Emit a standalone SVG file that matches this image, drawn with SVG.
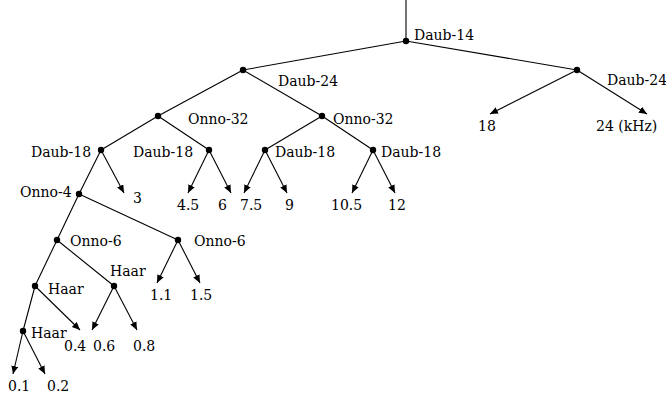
<svg xmlns="http://www.w3.org/2000/svg" width="666" height="397" viewBox="0 0 666 397">
<style>
.e{stroke:#000;stroke-width:1.1;fill:none}
.a{marker-end:url(#ah)}
.n{fill:#000}
text{font-family:"DejaVu Serif","Liberation Serif",serif;font-size:14px;fill:#000}
</style>
<defs>
<marker id="ah" markerUnits="userSpaceOnUse" markerWidth="9" markerHeight="8" refX="8" refY="3.5" orient="auto">
<path d="M0,0 L8,3.5 L0,7 z" fill="#000"/>
</marker>
</defs>
<rect width="666" height="397" fill="#fff"/>
<g id="connectors">
<line class="e" x1="406" y1="0" x2="406" y2="41"/>
<line class="e" x1="406" y1="41" x2="243" y2="70"/>
<line class="e" x1="406" y1="41" x2="577" y2="70"/>
<line class="e a" x1="577" y1="70" x2="490" y2="114"/>
<line class="e a" x1="577" y1="70" x2="647" y2="114"/>
<line class="e" x1="243" y1="70" x2="158" y2="116"/>
<line class="e" x1="243" y1="70" x2="322" y2="116"/>
<line class="e" x1="158" y1="116" x2="101" y2="150"/>
<line class="e" x1="158" y1="116" x2="209" y2="150"/>
<line class="e" x1="322" y1="116" x2="265" y2="150"/>
<line class="e" x1="322" y1="116" x2="373" y2="150"/>
<line class="e" x1="101" y1="150" x2="79" y2="194"/>
<line class="e a" x1="101" y1="150" x2="124" y2="193"/>
<line class="e a" x1="209" y1="150" x2="188" y2="193"/>
<line class="e a" x1="209" y1="150" x2="231" y2="193"/>
<line class="e a" x1="265" y1="150" x2="244" y2="193"/>
<line class="e a" x1="265" y1="150" x2="287" y2="193"/>
<line class="e a" x1="373" y1="150" x2="352" y2="193"/>
<line class="e a" x1="373" y1="150" x2="395" y2="193"/>
<line class="e" x1="79" y1="194" x2="57" y2="240"/>
<line class="e" x1="79" y1="194" x2="178" y2="240"/>
<line class="e a" x1="178" y1="240" x2="157" y2="283"/>
<line class="e a" x1="178" y1="240" x2="200" y2="283"/>
<line class="e" x1="57" y1="240" x2="35" y2="286"/>
<line class="e" x1="57" y1="240" x2="114" y2="286"/>
<line class="e a" x1="114" y1="286" x2="92" y2="330"/>
<line class="e a" x1="114" y1="286" x2="137" y2="330"/>
<line class="e" x1="35" y1="286" x2="23" y2="331"/>
<line class="e a" x1="35" y1="286" x2="80" y2="330"/>
<line class="e a" x1="23" y1="331" x2="13" y2="374"/>
<line class="e a" x1="23" y1="331" x2="45" y2="374"/>
</g>
<g id="n-daub14"><circle class="n" cx="406" cy="41" r="3.2"/><text x="414" y="40">Daub-14</text></g>
<g id="n-daub24r"><circle class="n" cx="577" cy="70" r="3.2"/><text x="607" y="85">Daub-24</text></g>
<g id="n-daub24l"><circle class="n" cx="243" cy="70" r="3.2"/><text x="278" y="86">Daub-24</text></g>
<g id="n-onno32l"><circle class="n" cx="158" cy="116" r="3.2"/><text x="188" y="124">Onno-32</text></g>
<g id="n-onno32r"><circle class="n" cx="322" cy="116" r="3.2"/><text x="333" y="124">Onno-32</text></g>
<g id="n-daub18a"><circle class="n" cx="101" cy="150" r="3.2"/><text x="31" y="157">Daub-18</text></g>
<g id="n-daub18b"><circle class="n" cx="209" cy="150" r="3.2"/><text x="133" y="157">Daub-18</text></g>
<g id="n-daub18c"><circle class="n" cx="265" cy="150" r="3.2"/><text x="275" y="157">Daub-18</text></g>
<g id="n-daub18d"><circle class="n" cx="373" cy="150" r="3.2"/><text x="381" y="157">Daub-18</text></g>
<g id="n-onno4"><circle class="n" cx="79" cy="194" r="3.2"/><text x="20" y="197">Onno-4</text></g>
<g id="n-onno6l"><circle class="n" cx="57" cy="240" r="3.2"/><text x="70" y="246">Onno-6</text></g>
<g id="n-onno6r"><circle class="n" cx="178" cy="240" r="3.2"/><text x="194" y="246">Onno-6</text></g>
<g id="n-haar1"><circle class="n" cx="35" cy="286" r="3.2"/><text x="48" y="294">Haar</text></g>
<g id="n-haar2"><circle class="n" cx="114" cy="286" r="3.2"/><text x="110" y="276">Haar</text></g>
<g id="n-haar3"><circle class="n" cx="23" cy="331" r="3.2"/><text x="31" y="338">Haar</text></g>
<g id="leaves">
<text x="478" y="131">18</text>
<text x="596" y="131">24 (kHz)</text>
<text x="133" y="203">3</text>
<text x="177" y="210">4.5</text>
<text x="218" y="210">6</text>
<text x="240" y="210">7.5</text>
<text x="285" y="210">9</text>
<text x="331" y="210">10.5</text>
<text x="388" y="210">12</text>
<text x="150" y="300">1.1</text>
<text x="190" y="300">1.5</text>
<text x="64" y="351">0.4</text>
<text x="93" y="351">0.6</text>
<text x="133" y="351">0.8</text>
<text x="8" y="391">0.1</text>
<text x="47" y="391">0.2</text>
</g>
</svg>
